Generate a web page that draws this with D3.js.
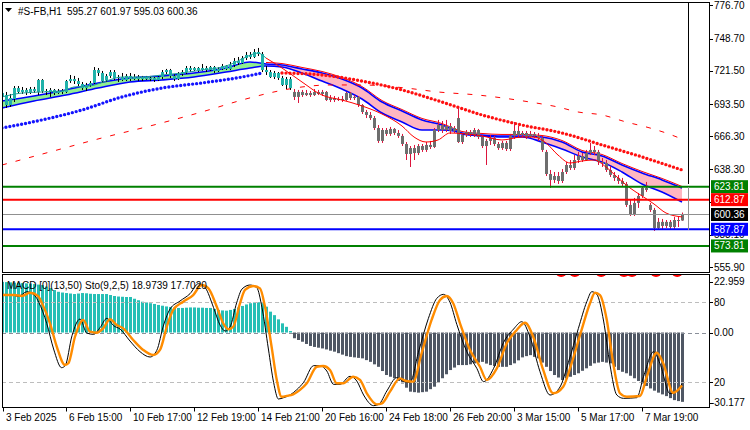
<!DOCTYPE html>
<html lang="en">
<head>
<meta charset="UTF-8">
<script src="https://d3js.org/d3.v7.min.js"></script>
<style>
    body{margin:0;background:#fff;}
    text{font-family:"Liberation Sans",Arial,sans-serif;font-size:10px;fill:#000;}
</style>
<title>#S-FB,H1</title>
</head>
<body>
<div class="canvas"></div>
<script>
// ---- price data, H1 bars 0..170 ----
const opens = [
 699.5,701.1,692.7,697.8,707.0,703.7,705.4,703.7,706.2,703.7,
 713.8,704.5,703.7,705.4,702.8,704.5,703.7,712.9,714.6,712.9,
 710.4,707.0,709.6,711.3,722.2,719.7,713.8,717.2,720.5,715.5,
 716.3,713.8,717.2,714.6,716.3,714.6,716.3,714.6,715.5,713.8,
 716.3,720.5,722.2,717.2,714.6,718.8,720.5,723.9,722.2,723.9,
 722.2,723.9,722.2,724.7,721.4,723.1,725.6,723.1,726.4,729.8,
 728.1,732.3,734.9,733.2,737.4,735.7,722.2,720.5,716.3,719.7,
 715.5,709.6,714.6,703.7,699.5,703.7,701.1,702.8,701.1,703.7,
 702.0,703.7,696.9,698.6,696.9,697.8,696.9,702.8,698.6,699.5,
 692.7,686.8,684.3,681.7,673.3,662.4,671.6,668.3,672.5,669.1,
 666.6,659.8,651.4,656.4,652.2,658.1,654.8,659.0,657.3,671.6,
 675.8,671.6,675.0,670.8,681.7,661.5,667.4,669.9,667.4,671.6,
 665.7,658.1,662.4,664.9,659.8,656.4,660.7,655.6,666.6,670.8,
 667.4,669.1,665.7,668.3,666.6,664.9,653.1,634.5,629.5,632.8,
 628.6,636.2,642.1,639.6,646.3,649.7,646.3,652.2,654.8,653.1,
 644.6,643.8,637.9,633.7,631.2,628.6,626.1,608.4,600.0,610.1,
 616.0,622.7,608.4,604.2,589.0,594.1,590.7,594.1,589.8,595.7,
 595.27];
const highs = [
 704.5,703.7,702.0,708.7,708.7,707.9,707.0,707.9,707.9,714.6,
 714.6,706.2,707.0,706.2,706.2,706.2,713.8,718.0,717.2,715.5,
 712.1,711.3,712.9,724.7,723.9,721.4,718.8,722.2,722.2,718.0,
 719.7,718.8,719.7,718.8,718.0,717.2,717.2,717.2,716.3,717.2,
 722.2,723.1,723.1,718.8,720.5,722.2,725.6,725.6,724.7,724.7,
 727.3,725.6,725.6,725.6,724.7,727.3,726.4,729.0,732.3,733.2,
 734.0,737.4,737.4,739.9,740.8,737.4,725.6,722.2,721.4,720.5,
 717.2,716.3,716.3,706.2,705.4,705.4,705.4,704.5,706.2,705.4,
 705.4,704.5,701.1,700.3,699.5,700.3,703.7,703.7,701.1,700.3,
 693.5,688.5,686.8,683.4,675.8,673.3,673.3,674.2,673.3,671.6,
 668.3,661.5,658.1,659.0,659.8,659.8,661.5,662.4,673.3,680.1,
 679.2,680.1,677.5,675.0,690.2,669.1,671.6,671.6,673.3,672.5,
 667.4,664.0,667.4,666.6,661.5,662.4,662.4,668.3,678.4,675.0,
 670.8,670.8,670.8,669.9,669.1,666.6,654.8,637.9,636.2,636.2,
 638.7,644.6,646.3,650.5,653.1,652.2,654.8,660.7,658.1,654.8,
 648.0,646.3,641.3,636.2,633.7,631.2,627.8,612.6,614.3,618.5,
 624.4,627.8,610.1,605.9,597.4,596.6,595.7,595.7,598.3,598.3,
 601.97];
const lows = [
 697.8,690.2,691.0,695.2,702.0,702.0,701.1,702.0,702.8,701.1,
 702.8,701.1,699.5,701.1,702.0,702.0,702.8,711.3,710.4,708.7,
 705.4,704.5,707.9,710.4,717.2,711.3,712.1,715.5,713.8,712.1,
 712.9,712.9,712.9,713.8,712.9,712.9,713.8,712.9,712.1,712.9,
 714.6,718.8,715.5,712.9,713.8,717.2,718.8,720.5,721.4,720.5,
 721.4,720.5,721.4,719.7,720.5,722.2,722.2,722.2,724.7,726.4,
 727.3,730.6,731.5,732.3,734.0,720.5,718.0,715.5,714.6,713.8,
 708.7,706.2,705.4,696.9,694.4,699.5,700.3,699.5,700.3,701.1,
 700.3,696.1,695.2,695.2,696.1,695.2,696.1,696.9,696.9,691.0,
 685.1,681.7,680.1,671.6,660.7,660.7,666.6,666.6,667.4,664.9,
 658.1,646.3,640.4,646.3,650.5,653.1,653.1,655.6,656.4,669.9,
 669.1,669.9,668.3,669.1,660.7,659.8,665.7,665.7,665.7,664.0,
 656.4,642.1,659.0,658.1,654.8,654.8,653.9,653.9,664.0,664.9,
 665.7,664.0,664.9,664.9,662.4,653.1,632.8,622.7,626.9,626.1,
 626.9,634.5,637.9,637.9,643.8,644.6,645.5,650.5,650.5,642.1,
 640.4,636.2,632.0,628.6,626.1,623.6,606.7,599.1,599.1,605.9,
 614.3,619.4,602.5,586.5,587.3,588.2,589.0,588.2,588.2,589.8,
 595.03];
const closes = [
 702.8,692.7,698.6,707.0,703.7,705.4,703.7,706.2,704.5,713.8,
 704.5,703.7,705.4,702.8,704.5,703.7,712.9,714.6,712.9,710.4,
 707.0,709.6,711.3,722.2,719.7,712.9,717.2,720.5,715.5,716.3,
 713.8,717.2,714.6,716.3,714.6,716.3,714.6,715.5,713.8,716.3,
 720.5,722.2,717.2,714.6,718.8,720.5,723.9,722.2,723.9,722.2,
 723.9,722.2,724.7,721.4,723.1,725.6,723.1,726.4,729.8,728.1,
 732.3,734.9,733.2,737.4,735.7,722.2,720.5,716.3,719.7,715.5,
 709.6,714.6,707.0,699.5,703.7,701.1,702.8,701.1,703.7,702.0,
 703.7,696.9,698.6,696.9,697.8,696.9,702.8,698.6,699.5,692.7,
 686.8,684.3,681.7,673.3,662.4,671.6,668.3,672.5,669.1,666.6,
 659.8,651.4,656.4,652.2,658.1,654.8,659.0,657.3,671.6,675.8,
 671.6,675.0,670.8,673.3,661.5,667.4,669.9,667.4,671.6,665.7,
 658.1,662.4,664.9,659.8,656.4,660.7,655.6,666.6,670.8,667.4,
 669.1,665.7,668.3,666.6,664.9,654.8,634.5,629.5,632.8,628.6,
 636.2,642.1,639.6,646.3,649.7,646.3,652.2,654.8,653.1,644.6,
 643.8,637.9,633.7,631.2,628.6,626.1,608.4,600.0,610.1,616.0,
 622.7,621.0,604.2,589.0,594.1,590.7,594.1,589.8,595.7,595.27,
 600.36];

// ---- indicator lines, read at sample bars ----
const bandBars  = [0,8,16,24,32,40,48,56,62,66,70,75,80,85,90,95,100,105,110,113,115,120,125,130,135,140,145,150,155,160,165,170];
const bandUpper = [696.1,700.3,705.4,711.3,715.5,717.2,719.7,723.9,729.0,727.3,726.4,723.1,719.7,714.6,707.0,695.2,687.6,680.1,675.8,671.6,669.1,667.4,666.6,666.6,665.7,661.5,653.1,649.7,642.1,635.4,629.5,622.7];
const bandLower = [690.2,696.1,701.1,707.0,712.1,713.8,716.3,720.5,723.9,725.6,724.7,719.7,712.9,706.2,697.8,685.9,678.4,671.6,671.6,670.8,668.3,666.6,665.7,665.7,661.5,655.6,648.9,644.6,636.2,626.1,619.4,610.9];

const fastBars = [0,5,10,15,18,22,26,30,35,40,45,50,55,58,61,64,66,70,75,80,85,90,95,100,103,106,109,112,116,120,125,130,133,136,139,142,145,148,151,154,157,160,163,166,170];
const fastVals = [699.5,702.8,703.7,704.5,707.9,708.7,712.9,716.3,716.3,718.0,719.7,722.2,724.7,728.1,733.2,736.5,732.3,723.9,712.1,701.1,696.9,691.9,685.1,675.0,665.7,661.5,663.2,669.1,668.3,666.6,663.2,665.7,665.7,660.7,650.5,643.8,645.5,646.3,640.4,631.2,622.7,616.0,609.2,601.6,598.3];

const dotBars = [0,10,20,30,40,50,60,65,70,80,90,100,110,120,130,140,150,160,170];
const dotVals = [673.3,680.1,688.5,699.5,707.0,711.3,716.3,719.7,719.7,718.0,712.9,705.4,695.2,684.3,675.8,669.1,659.0,648.9,637.9];

const slowBars = [0,12,25,37,49,61,68,75,82,90,101,109,119,132,139,144,150,156,162,166,170];
const slowVals = [642.1,653.1,664.9,675.0,685.9,697.8,703.7,707.9,709.6,709.6,707.0,703.7,701.1,695.2,691.0,686.8,684.3,678.4,673.3,669.1,664.0];

const trendTurn = 66;   // band / dots / fast line change colour here
const candleTurn = 73;  // candles change colour here

// ---- levels ----
const levels = [
    {v:623.81, c:'#008000'},
    {v:612.87, c:'#ff0000'},
    {v:587.87, c:'#0000ff'},
    {v:573.81, c:'#008000'}
];
const lastPrice = 600.36;
const priceTicks = [776.70,748.70,721.50,693.50,666.30,638.30,611.10,583.10,555.90];

// ---- MACD histogram, one value per bar ----
const macdHist = [
 20.4,20.3,20.2,20.1,20.0,19.9,19.8,19.7,19.5,19.3,
 19.1,18.5,17.9,17.1,16.4,16.1,15.9,15.7,15.5,15.7,
 15.9,15.8,15.6,15.5,15.5,15.5,15.5,15.1,14.7,14.5,
 14.4,14.3,14.3,13.6,13.0,12.4,12.1,11.8,11.5,11.1,
 10.8,10.5,10.3,10.1,9.9,9.9,10.0,10.1,10.1,10.0,
 10.0,9.9,9.9,9.5,9.1,8.9,8.8,9.1,9.5,10.1,
 10.7,11.3,11.8,12.1,12.2,11.8,10.4,8.4,7.0,5.3,
 3.7,2.3,0.6,-2.3,-3.0,-3.7,-4.6,-5.4,-5.8,-6.1,
 -6.4,-6.8,-7.3,-7.7,-8.3,-8.9,-9.5,-9.8,-10.0,-10.2,
 -10.4,-11.1,-11.8,-12.8,-13.8,-15.5,-17.1,-17.8,-18.4,-19.5,
 -20.5,-22.2,-23.8,-24.0,-24.2,-24.0,-23.8,-22.8,-21.8,-20.1,
 -18.4,-16.8,-15.1,-14.1,-13.1,-13.1,-13.1,-12.8,-12.4,-12.1,
 -11.8,-12.5,-13.1,-13.5,-13.8,-13.8,-13.8,-13.1,-12.4,-11.2,
 -10.0,-9.5,-9.1,-9.8,-10.4,-12.1,-13.8,-15.5,-17.1,-18.1,
 -19.1,-18.5,-17.8,-17.1,-16.4,-15.4,-14.4,-13.4,-12.4,-12.1,
 -11.8,-12.1,-12.4,-13.8,-15.1,-15.8,-16.4,-17.4,-18.4,-19.5,
 -20.5,-21.5,-22.5,-23.4,-24.2,-24.9,-25.6,-26.4,-27.2,-27.6,
 -27.9];

// ---- stochastic (9,2,5): [bar, value] ----
const stochSignal = [[0,85.5],[3,85.5],[5,84.8],[7,87.2],[9,84.8],[10,79.3],[12,64.3],[13.7,46.7],[15.75,33],[16.6,34.3],[18.25,54.2],[20.3,66.8],[22,58],[23.7,57.2],[25.3,60.5],[27,67.3],[28.7,63],[30.3,60.5],[32.8,51.8],[35.3,44.3],[37.8,40.5],[39.5,44.3],[41.2,61.7],[42.8,74.3],[45.3,80.5],[47.8,85.5],[49.9,93],[51.6,90.5],[53.7,76.7],[55.3,64.3],[56.6,59.8],[57.8,61.7],[59.5,79.3],[60.75,89.3],[62.8,92.3],[64.5,90.5],[65.75,76.7],[67.4,46.7],[68.7,21.8],[69.9,9.2],[71.2,9.8],[72.8,11],[74.5,14.3],[76.2,19.3],[78.7,31.7],[80.3,32.3],[82,29.3],[83.7,19.3],[85.3,19.3],[87.8,24.2],[89.5,21.8],[91.2,11.8],[93.7,3.5],[95,4.3],[97,13],[99.5,23],[101,21],[102.8,20.5],[104.9,41.8],[107.4,66.8],[109.5,81.8],[111.2,84.8],[112.8,79.3],[114.5,64.3],[117,44.3],[119.5,31.7],[121.2,21.8],[123.7,30.5],[126.2,49.3],[128.7,59.3],[130.75,64.7],[132.8,54.2],[135.3,29.3],[137.8,11.8],[140.3,16.7],[142.4,34.3],[144.9,59.3],[147,79.3],[148.25,87.2],[149.5,85.5],[151.2,66.8],[152.8,34.3],[154.5,11.8],[156.2,9.2],[159.5,9.8],[161.2,24.2],[163.7,42.2],[165.3,34.3],[167.8,12.2],[170,17.70]];
const stochMain = [[0,86],[2.2,85.8],[4.2,84.5],[6.2,88],[8.2,85],[9.2,80],[11.2,64],[12.9,45],[14.9,31],[15.8,32.5],[17.5,55],[19.5,67.5],[21.2,57],[22.9,56],[24.5,61],[26.2,68],[27.9,62.5],[29.5,60],[32,51],[34.5,43],[37,39],[38.7,44],[40.4,63],[42,75],[44.5,81],[47,86.5],[49.1,94],[50.8,91],[52.9,76],[54.5,63],[55.8,58.5],[57,61.5],[58.7,80],[60,90],[62,93],[63.7,91],[65,76],[66.6,45],[67.9,20],[69.1,7.5],[70.4,8.5],[72,10.5],[73.7,14.5],[75.4,20],[77.9,32.5],[79.5,32.5],[81.2,28.5],[82.9,18.5],[84.5,18.5],[87,24.5],[88.7,21],[90.4,10.5],[92.9,2.5],[94.2,3.5],[96.2,13.5],[98.7,23.5],[100.2,21],[102,20],[104.1,42.5],[106.6,68],[108.7,83],[110.4,86],[112,80],[113.7,63.5],[116.2,43],[118.7,30.5],[120.4,20.5],[122.9,30.5],[125.4,50],[127.9,60],[129.95,65.5],[132,54],[134.5,28],[137,10.5],[139.5,16.5],[141.6,35],[144.1,60.5],[146.2,80.5],[147.45,88],[148.7,86],[150.4,66],[152,33],[153.7,10.5],[155.4,8],[158.7,8.5],[160.4,24.5],[162.9,43],[164.5,34],[167,11.5],[168.8,13.5],[170,18.97]];
const markBars = [139.8,143.2,149.8,155.5,157.5,163.5,168.8];

// ---- time axis ----
const timeTickBars = [0,16,32,48,64,80,96,112,128,144,160];
const timeTickLabels = ['3 Feb 2025','6 Feb 15:00','10 Feb 17:00','12 Feb 19:00','14 Feb 21:00','20 Feb 16:00','24 Feb 18:00','26 Feb 20:00','3 Mar 15:00','5 Mar 17:00','7 Mar 19:00'];

const width = 750, height = 430;
const [pl, pr, mt, mb] = [2, 709, 2, 272];
const [st, sb] = [274.5, 407.5];

const svg = d3.select('.canvas').append('svg')
    .attr('width', width).attr('height', height);

const x = d3.scaleLinear().domain([0,170]).range([2,682]);
const y = d3.scaleLinear().domain([555.9,776.7]).range([267.2,5.4]);
const yMacd = d3.scaleLinear().domain([-30.177,22.959]).range([sb,275.5]);
const yStoch = d3.scaleLinear().domain([0,100]).range([409,275.7]);

const defs = svg.append('defs');
defs.append('clipPath').attr('id','clipMain').append('rect')
    .attr('x',pl+0.5).attr('y',mt+0.5).attr('width',pr-pl-1).attr('height',mb-mt-1);
defs.append('clipPath').attr('id','clipSub').append('rect')
    .attr('x',pl+0.5).attr('y',st+0.5).attr('width',pr-pl-1).attr('height',sb-st-1);

const main = svg.append('g').attr('clip-path','url(#clipMain)');
const sub = svg.append('g').attr('clip-path','url(#clipSub)');

// band between the two averages
const band = bandBars.map((b,k)=>({b, up:bandUpper[k], lo:bandLower[k]}));
const area = d3.area().x(d=>x(d.b)).y0(d=>y(d.lo)).y1(d=>y(d.up)).curve(d3.curveMonotoneX);
main.append('path').datum(band.filter(d=>d.b<=trendTurn)).attr('d',area).attr('fill','#90ee90');
main.append('path').datum(band.filter(d=>d.b>=trendTurn)).attr('d',area).attr('fill','#ffb6c1');
const lineUp = d3.line().x(d=>x(d.b)).y(d=>y(d.up)).curve(d3.curveMonotoneX);
const lineLo = d3.line().x(d=>x(d.b)).y(d=>y(d.lo)).curve(d3.curveMonotoneX);
main.append('path').datum(band.filter(d=>d.b>=trendTurn)).attr('d',lineUp)
    .attr('fill','none').attr('stroke','#ff0000').attr('stroke-width',1).attr('transform','translate(0,-1.5)');
main.append('path').datum(band).attr('d',lineUp).attr('fill','none').attr('stroke','#0000ff').attr('stroke-width',1.6);
main.append('path').datum(band).attr('d',lineLo).attr('fill','none').attr('stroke','#0000ff').attr('stroke-width',1.6);

// slow average (dashed)
const slow = slowBars.map((b,k)=>({b, v:slowVals[k]}));
const lineV = d3.line().x(d=>x(d.b)).y(d=>y(d.v)).curve(d3.curveMonotoneX);
main.append('path').datum(slow).attr('d',lineV)
    .attr('fill','none').attr('stroke','#ff0000').attr('stroke-width',1).attr('stroke-dasharray','5,9');

// dotted average
const dots = dotBars.map((b,k)=>({b, v:dotVals[k]}));
[['#1414ff', dots.filter(d=>d.b<=trendTurn)], ['#ff1010', dots.filter(d=>d.b>=trendTurn)]].forEach(([c,dd])=>{
    main.append('path').datum(dd).attr('d',lineV)
        .attr('fill','none').attr('stroke',c).attr('stroke-width',3.4)
        .attr('stroke-linecap','round').attr('stroke-dasharray','0,4');
});

// candles
const bars = d3.range(opens.length).map(i=>({i, o:opens[i], h:highs[i], l:lows[i], c:closes[i]}));
const cg = main.append('g');
cg.selectAll('line').data(bars).enter().append('line')
    .attr('x1',d=>x(d.i)+0.5).attr('x2',d=>x(d.i)+0.5)
    .attr('y1',d=>y(d.h)).attr('y2',d=>y(d.l))
    .attr('stroke',d=>d.i<candleTurn?'#000':'#dc143c').attr('stroke-width',1);
cg.selectAll('rect').data(bars).enter().append('rect')
    .attr('x',d=>x(d.i)-1).attr('width',3)
    .attr('y',d=>y(Math.max(d.o,d.c)))
    .attr('height',d=>Math.max(1,Math.abs(y(d.o)-y(d.c))))
    .attr('fill',d=>d.i<candleTurn?'#20b2aa':'#6e6e6e');

// fast line
const fast = fastBars.map((b,k)=>({b, v:fastVals[k]}));
main.append('path').datum(fast.filter(d=>d.b<=trendTurn)).attr('d',lineV)
    .attr('fill','none').attr('stroke','#20a098').attr('stroke-width',1);
main.append('path').datum(fast.filter(d=>d.b>=trendTurn)).attr('d',lineV)
    .attr('fill','none').attr('stroke','#ff0000').attr('stroke-width',1);

// horizontal levels
svg.append('line').attr('x1',pl).attr('x2',pr).attr('y1',Math.round(y(lastPrice))+0.5).attr('y2',Math.round(y(lastPrice))+0.5)
    .attr('stroke','#909090').attr('stroke-width',1);
levels.forEach(l=>{
    svg.append('line').attr('x1',pl).attr('x2',pr).attr('y1',y(l.v)).attr('y2',y(l.v))
        .attr('stroke',l.c).attr('stroke-width',2);
});
svg.append('line').attr('x1',688.5).attr('x2',688.5).attr('y1',mt).attr('y2',184).attr('stroke','#000');
svg.append('line').attr('x1',688.5).attr('x2',688.5).attr('y1',187).attr('y2',230).attr('stroke','#909090');

// frames
svg.append('rect').attr('x',pl+0.5).attr('y',mt+0.5).attr('width',pr-pl).attr('height',mb-mt)
    .attr('fill','none').attr('stroke','#000');
svg.append('rect').attr('x',pl+0.5).attr('y',st).attr('width',pr-pl).attr('height',sb-st)
    .attr('fill','none').attr('stroke','#000');

// price axis
const ax = svg.append('g');
priceTicks.forEach(p=>{
    ax.append('line').attr('x1',pr).attr('x2',pr+4).attr('y1',Math.round(y(p))+0.5).attr('y2',Math.round(y(p))+0.5).attr('stroke','#000');
    ax.append('text').attr('x',714).attr('y',y(p)).attr('dy','0.35em').text(p.toFixed(2));
});
const boxes = [...levels.slice(0,2), {v:lastPrice, c:'#000'}, ...levels.slice(2)];
boxes.forEach(b=>{
    ax.append('rect').attr('x',711).attr('y',y(b.v)-6.5).attr('width',37).attr('height',13).attr('fill',b.c);
    ax.append('text').attr('x',714).attr('y',y(b.v)).attr('dy','0.35em').style('fill','#fff').text(b.v.toFixed(2));
});

// header
svg.append('path').attr('d','M5,8 L12,8 L8.5,12 Z').attr('fill','#000');
svg.append('text').attr('x',18).attr('y',15).text('#S-FB,H1');
svg.append('text').attr('x',67).attr('y',15).text('595.27 601.97 595.03 600.36');

// ---- sub window ----
sub.selectAll('circle').data(markBars).enter().append('circle')
    .attr('cx',d=>x(d)).attr('cy',271).attr('r',6).attr('fill','#ff0000');
sub.selectAll('rect.h').data(macdHist).enter().append('rect').attr('class','h')
    .attr('x',(d,i)=>x(i)-1).attr('width',3)
    .attr('y',d=>d>=0?yMacd(d):yMacd(0))
    .attr('height',d=>Math.abs(yMacd(d)-yMacd(0)))
    .attr('fill',d=>d>=0?'#26bfb5':'#4f5764');
[[yStoch(80),'#bdbdbd'],[yStoch(20),'#bdbdbd'],[yMacd(0),'#8a8f99']].forEach(([yy,c])=>{
    sub.append('line').attr('x1',pl).attr('x2',pr).attr('y1',Math.round(yy)+0.5).attr('y2',Math.round(yy)+0.5)
        .attr('stroke',c).attr('stroke-dasharray','4,3');
});
const stLine = d3.line().x(d=>x(d[0])).y(d=>yStoch(d[1])).curve(d3.curveMonotoneX);
sub.append('path').datum(stochMain).attr('d',stLine).attr('fill','none').attr('stroke','#000').attr('stroke-width',1);
sub.append('path').datum(stochSignal).attr('d',stLine).attr('fill','none').attr('stroke','#ff8c00').attr('stroke-width',2.4);

svg.append('text').attr('x',7).attr('y',289).text('MACD [0](13,50)');
svg.append('text').attr('x',85).attr('y',289).text('Sto(9,2,5) 18.9739 17.7020');

const subLabels = [[yMacd(22.959)+6,'22.959'],[yStoch(80),'80'],[yMacd(0),'0.00'],[yStoch(20),'20'],[sb-5,'-30.177']];
subLabels.forEach(([yy,t])=>{
    svg.append('line').attr('x1',pr).attr('x2',pr+4).attr('y1',Math.round(yy)+0.5).attr('y2',Math.round(yy)+0.5).attr('stroke','#000');
    svg.append('text').attr('x',t[0]==='-'?711:714).attr('y',yy).attr('dy','0.35em').text(t);
});

// time axis
timeTickBars.forEach((b,k)=>{
    const tx = k===0 ? 3 : x(b);
    svg.append('line').attr('x1',tx+0.5).attr('x2',tx+0.5).attr('y1',sb).attr('y2',sb+4).attr('stroke','#000');
    svg.append('text').attr('x',tx+3).attr('y',421).text(timeTickLabels[k]);
});
</script>
</body>
</html>
